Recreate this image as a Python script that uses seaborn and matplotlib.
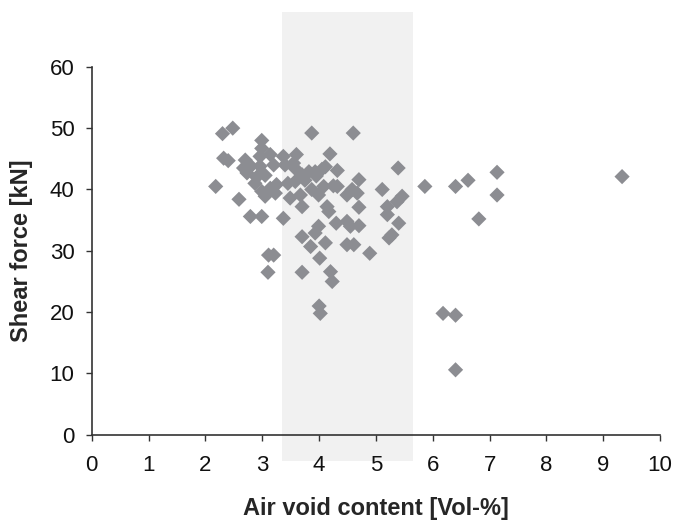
import pandas as pd
import matplotlib.pyplot as plt
import seaborn as sns

# Gelesene Messwerte (Hohlraumgehalt / Scherkraft)
air_void = [
    2.18, 2.30, 2.32, 2.40, 2.48, 2.59, 2.70, 2.67, 2.73, 2.80,
    2.79, 2.87, 2.96, 2.96, 2.99, 2.99, 2.99, 2.99, 3.05, 3.14,
    3.23, 3.14, 3.20, 3.37, 3.37, 3.40, 3.11, 3.20, 3.10, 3.49,
    3.55, 3.58, 3.60, 3.58, 3.67, 3.70, 3.70, 3.70, 3.70, 3.82,
    3.87, 3.87, 3.85, 3.93, 3.93, 3.99, 3.99, 4.01, 4.00, 4.02,
    4.05, 4.08, 4.11, 4.11, 4.14, 4.17, 4.19, 4.20, 4.23, 4.30,
    4.32, 4.32, 4.49, 4.49, 4.49, 4.55, 4.58, 4.60, 4.61, 4.67,
    4.70, 4.70, 4.70, 4.89, 5.11, 5.20, 5.20, 5.23, 5.28, 5.37,
    5.39, 5.40, 5.46, 5.86, 6.18, 6.40, 6.40, 6.40, 6.62, 6.81,
    7.13, 7.13, 9.33, 2.90, 3.05, 3.25, 3.45, 3.75, 3.95, 4.25,
]
shear_force = [
    40.5, 49.1, 45.1, 44.7, 50.0, 38.4, 44.8, 43.5, 42.7, 43.8,
    35.6, 41.0, 45.4, 43.8, 48.0, 46.7, 39.7, 35.6, 38.9, 40.2,
    39.4, 45.7, 44.0, 45.4, 35.3, 44.0, 29.3, 29.3, 26.5, 38.6,
    44.3, 41.3, 45.7, 43.4, 39.1, 42.4, 37.2, 32.3, 26.5, 42.9,
    49.2, 40.0, 30.7, 42.9, 32.9, 39.1, 34.0, 28.8, 21.0, 19.8,
    43.3, 40.5, 43.7, 31.3, 37.2, 36.4, 45.8, 26.6, 25.0, 34.5,
    43.1, 40.5, 39.1, 34.8, 31.0, 34.0, 40.0, 49.2, 31.0, 39.4,
    41.6, 37.1, 34.1, 29.6, 40.0, 37.2, 35.9, 32.1, 32.6, 38.0,
    43.5, 34.5, 38.9, 40.5, 19.8, 40.5, 19.5, 10.6, 41.5, 35.2,
    42.8, 39.1, 42.1, 42.0, 42.3, 40.8, 41.0, 41.5, 42.2, 40.6,
]

df = pd.DataFrame({"Hohlraum": air_void, "Scherkraft": shear_force})

sns.set_style("ticks")
plt.rcParams["font.family"] = ["Liberation Sans", "DejaVu Sans"]

fig = plt.figure(figsize=(6.75, 5.22), dpi=100)
ax = fig.add_axes([0.136, 0.167, 0.842, 0.705])
ax.set_facecolor("none")

# grau hinterlegter Bereich (geht über die Achsen hinaus)
band = ax.axvspan(3.35, 5.65, ymin=-0.07, ymax=1.15, color="#f1f1f1", zorder=0, lw=0)
band.set_clip_on(False)

sns.scatterplot(data=df, x="Hohlraum", y="Scherkraft", marker="D", s=60,
                color="#8c8d92", edgecolor="none", ax=ax, zorder=3, legend=False)

ax.set_xlim(0, 10)
ax.set_ylim(0, 60)
ax.set_xticks(range(0, 11))
ax.set_yticks(range(0, 61, 10))
sns.despine(ax=ax)
for s in ["left", "bottom"]:
    ax.spines[s].set_color("#333333")
    ax.spines[s].set_linewidth(1.2)
ax.tick_params(axis="both", labelsize=16, colors="#333333", labelcolor="#111111",
               length=4.5, width=1.0)
ax.tick_params(axis="x", pad=10)
ax.tick_params(axis="y", pad=8)

ax.set_xlabel("Air void content [Vol-%]", fontsize=17, fontweight="bold", labelpad=15)
ax.set_ylabel("Shear force [kN]", fontsize=17, fontweight="bold", labelpad=12)

plt.savefig("out.png", dpi=100)
